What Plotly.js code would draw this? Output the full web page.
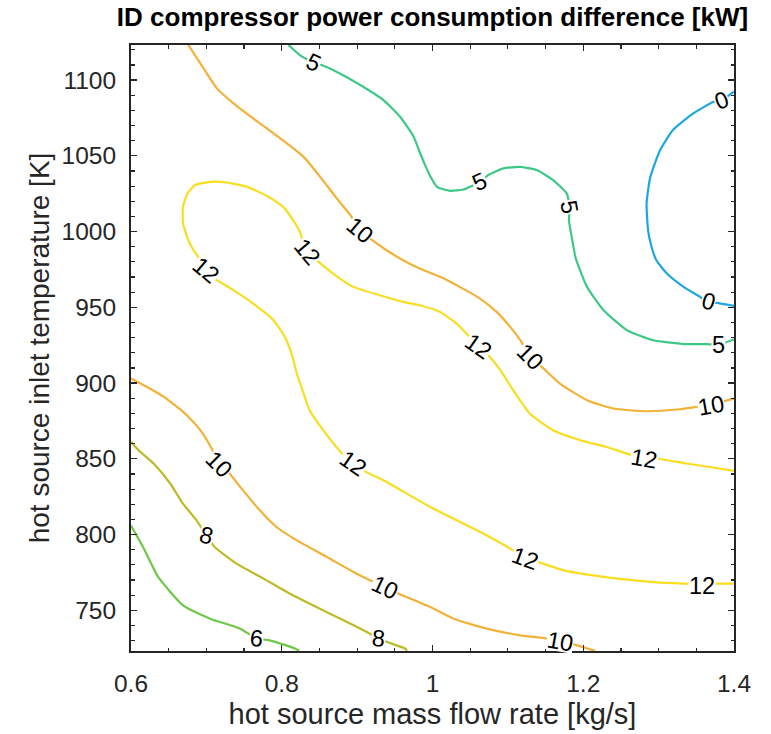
<!DOCTYPE html>
<html><head><meta charset="utf-8">
<script src="https://cdn.plot.ly/plotly-3.0.1.min.js"></script>
<style>html,body{margin:0;padding:0;background:#fff}</style>
</head><body><div id="chart" style="width:771px;height:734px"></div>
<script>
// Contour level 0
const x0 = [1.400,1.384,1.373,1.346,1.319,1.302,1.289,1.284,1.286,1.290,1.297,1.311,1.333,1.355,1.366,1.377,1.400];
const y0 = [1092.3,1086.8,1085.7,1078.0,1067.0,1053.8,1036.1,1018.6,1000.9,991.0,981.1,972.3,963.5,956.9,953.6,952.9,950.9];
// Contour level 5
const x5 = [0.809,0.824,0.842,0.853,0.877,0.908,0.935,0.957,0.975,0.983,0.989,0.997,1.006,1.023,1.041,1.063,1.074,1.094,1.116,1.138,1.160,1.178,1.182,1.181,1.185,1.190,1.205,1.227,1.258,1.293,1.337,1.364,1.379,1.400];
const y5 = [1123.15,1116.5,1111.7,1109.9,1104.4,1095.6,1086.8,1075.8,1062.6,1052.5,1045.2,1036.6,1029.5,1026.9,1027.8,1032.8,1037.3,1041.7,1042.7,1040.6,1034.0,1025.2,1016.1,1007.5,995.7,982.4,963.5,948.1,934.9,928.3,925.7,925.7,925.3,928.8];
// Contour level 6
const x6 = [0.600,0.616,0.636,0.669,0.705,0.745,0.767,0.784,0.818,0.823];
const y6 = [806.0,791.8,772.0,753.3,744.5,737.9,731.3,730.2,724.7,723.15];
// Contour level 8
const x8 = [0.600,0.610,0.630,0.652,0.669,0.687,0.700,0.711,0.740,0.776,0.811,0.846,0.882,0.913,0.929,0.946,0.964,0.966];
const y8 = [861.3,855.7,846.9,833.7,820.4,809.4,799.5,791.8,780.8,770.9,761.0,752.2,743.4,735.7,731.3,728.0,724.7,723.15];
// Contour level 10 (upper branch)
const x10a = [0.676,0.692,0.714,0.736,0.762,0.798,0.829,0.851,0.873,0.891,0.904,0.917,0.939,0.961,0.983,1.010,1.036,1.063,1.085,1.103,1.118,1.129,1.145,1.169,1.205,1.240,1.284,1.328,1.351,1.370,1.388,1.400];
const y10a = [1123.15,1111.0,1094.5,1084.6,1074.7,1061.5,1049.3,1036.1,1021.9,1010.8,1000.9,995.5,987.7,981.1,975.6,970.1,963.5,955.8,947.0,937.1,927.2,917.3,910.7,899.7,888.7,883.2,881.4,882.7,884.3,884.9,888.2,889.8];
// Contour level 10 (lower branch)
const x10b = [0.600,0.625,0.647,0.674,0.692,0.707,0.717,0.729,0.745,0.767,0.793,0.820,0.860,0.895,0.917,0.937,0.955,0.997,1.028,1.072,1.116,1.152,1.169,1.187,1.216];
const y10b = [903.0,896.4,889.8,878.8,868.9,856.8,846.4,841.3,831.4,818.2,805.0,796.2,785.2,775.3,769.8,765.2,761.0,752.2,744.5,737.9,733.5,731.3,729.1,727.5,723.15];
// Contour level 12
const x12 = [1.400,1.390,1.337,1.297,1.280,1.231,1.196,1.160,1.129,1.107,1.090,1.074,1.061,1.045,1.032,1.010,0.983,0.961,0.930,0.895,0.868,0.846,0.833,0.824,0.815,0.802,0.780,0.754,0.727,0.705,0.685,0.675,0.669,0.669,0.676,0.683,0.689,0.700,0.711,0.736,0.762,0.789,0.804,0.813,0.820,0.829,0.837,0.855,0.880,0.895,0.908,0.939,0.970,0.997,1.028,1.059,1.103,1.123,1.140,1.174,1.213,1.258,1.302,1.337,1.357,1.373,1.400];
const y12 = [842.0,842.9,846.9,850.2,850.2,857.8,862.3,868.9,879.9,895.3,908.5,918.4,923.9,932.7,939.3,947.0,951.4,953.6,958.0,963.5,972.3,981.1,986.6,999.8,1007.5,1016.3,1023.6,1029.5,1032.4,1032.8,1030.7,1025.2,1016.3,1005.4,994.3,987.7,983.3,974.5,969.0,961.3,952.5,941.5,930.5,919.5,906.3,893.1,882.1,868.9,853.5,846.9,842.4,834.7,825.9,818.2,810.5,802.8,790.7,784.1,781.9,776.4,773.1,770.3,768.3,767.6,766.5,767.6,767.6];

// Contour labels: level text, position on the line, rotation
const labelText  = ['10','10','10','10','10','10','12','12','12','12','12','12','12','5','5','5','5','0','0','8','8','6'];
const labelX     = [0.904,1.129,1.370,0.717,0.937,1.169, 0.833,0.700,1.061,1.280,0.895,1.123,1.357, 0.842,1.063,1.182,1.379, 1.384,1.366, 0.700,0.929, 0.767];
const labelY     = [1000.9,917.3,884.9,846.4,765.2,729.1, 986.6,974.5,923.9,850.2,846.9,784.1,766.5, 1111.7,1032.8,1016.1,925.3, 1086.8,953.6, 799.5,731.3, 731.3];
const labelAngle = [40,45,-10,45,25,10, 50,40,35,10,35,20,0, 25,-25,80,0, -20,15, 15,5, 5];

const colors = {
  0:  'rgb(28,168,222)',
  5:  'rgb(62,200,135)',
  6:  'rgb(112,200,72)',
  8:  'rgb(190,186,40)',
  10: 'rgb(242,178,55)',
  12: 'rgb(248,222,30)'
};

function line(x, y, lvl) {
  return {type:'scatter', mode:'lines', x:x, y:y, hoverinfo:'skip',
          line:{color:colors[lvl], width:2.2, shape:'spline', smoothing:0.5}, showlegend:false};
}

const traces = [
  line(x0, y0, 0), line(x5, y5, 5), line(x6, y6, 6), line(x8, y8, 8),
  line(x10a, y10a, 10), line(x10b, y10b, 10), line(x12, y12, 12)
];

const FONT = 'Liberation Sans, Arial, Helvetica, sans-serif';
const annotations = labelText.map((t, i) => ({
  x: labelX[i], y: labelY[i], xref:'x', yref:'y', text: t, showarrow:false,
  textangle: labelAngle[i], bgcolor:'#ffffff', borderpad:0, height:19,
  font:{family:FONT, size:23.5, color:'#000000'}
}));

const axisCommon = {
  ticks:'inside', ticklen:6, tickwidth:1.3, tickcolor:'#262626',
  showline:true, linecolor:'#262626', linewidth:2, mirror:'ticks',
  showgrid:false, zeroline:false,
  tickfont:{family:FONT, size:24.5, color:'#262626'}
};

const layout = {
  width:771, height:734,
  margin:{l:131, r:37, t:45, b:83},
  paper_bgcolor:'#ffffff', plot_bgcolor:'#ffffff',
  title:{text:'<b>ID compressor power consumption difference [kW]</b>',
         font:{family:FONT, size:26, color:'#000000'},
         x:0.5, xref:'paper', xanchor:'center', y:0.977, yref:'container', yanchor:'middle'},
  xaxis:Object.assign({}, axisCommon, {
    range:[0.6,1.4], tick0:0.6, dtick:0.2, ticklabelstandoff:10,
    minor:{dtick:0.05, ticks:'inside', ticklen:3.5, tickwidth:1.2, tickcolor:'#262626', showgrid:false},
    title:{text:'hot source mass flow rate [kg/s]', font:{family:FONT, size:29, color:'#262626'}, standoff:7}
  }),
  yaxis:Object.assign({}, axisCommon, {
    range:[723.15,1123.15], tick0:0, dtick:50, ticklabelstandoff:8,
    minor:{dtick:10, ticks:'inside', ticklen:3.5, tickwidth:1.2, tickcolor:'#262626', showgrid:false},
    title:{text:'hot source inlet temperature [K]', font:{family:FONT, size:28, color:'#262626'}, standoff:4}
  }),
  annotations: annotations
};

Plotly.newPlot('chart', traces, layout, {displayModeBar:false, staticPlot:true});
</script></body></html>
